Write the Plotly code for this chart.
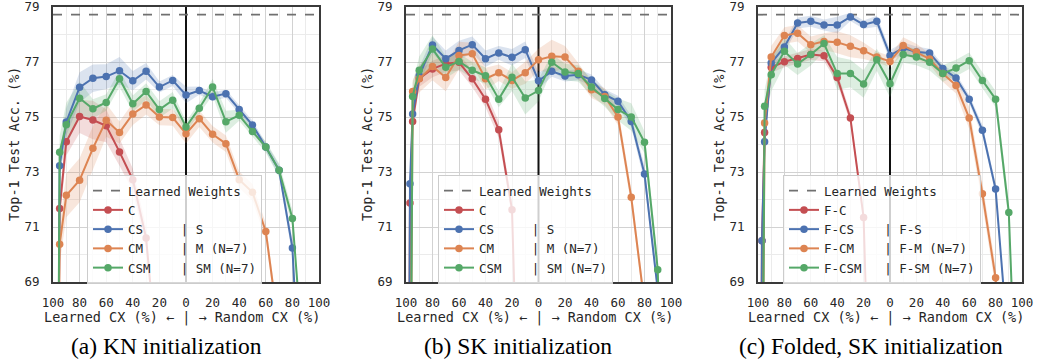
import plotly.graph_objects as go

# ---------------- data ----------------
# signed position: negative = learned CX (%), positive = random CX (%)
X_POS = [-99, -97, -95, -90, -80, -70, -60, -50, -40, -30, -20, -10, 0,
         10, 20, 30, 40, 50, 60, 70, 80, 90, 95]
TICK_VALS = [-100, -80, -60, -40, -20, 0, 20, 40, 60, 80, 100]
TICK_TEXT = ["100", "80", "60", "40", "20", "0", "20", "40", "60", "80", "100"]
Y_TICKS = [69, 71, 73, 75, 77, 79]
LEARNED_WEIGHTS = 78.72
N = None

# panel (a) KN initialization
a_C = [N, 60.0, 71.67, 74.10, 75.02, 74.89, 74.68, 73.73, 72.72, 70.60, 65.3,
       N, N, N, N, N, N, N, N, N, N, N, N]
a_CS = [N, 56.0, 73.23, 74.82, 76.08, 76.41, 76.47, 76.68, 76.32, 76.66, 76.09, 76.33,
        75.80, 75.96, 75.74, 75.85, 75.27, 74.71, 73.91, 73.06, 70.24, 61.0, N]
a_CM = [N, 60.0, 70.37, 72.15, 72.70, 73.86, 74.88, 74.44, 75.11, 75.44, 75.00, 74.98,
        74.39, 74.94, 74.37, 74.03, 72.72, 72.26, 70.84, 67.2, N, N, N]
a_CSM = [N, 58.0, 73.72, 74.72, 75.68, 75.30, 75.53, 76.39, 75.48, 75.93, 75.27, 75.61,
         74.64, 75.32, 76.09, 74.83, 75.06, 74.47, 73.91, 73.06, 71.31, 65.0, N]
a_C_sd = [N, 0.6, 0.5, 0.5, 0.6, 0.7, 0.6, 0.5, 0.4, 0.4, 0.4,
          N, N, N, N, N, N, N, N, N, N, N, N]
a_CS_sd = [N, 0.5, 0.4, 0.5, 0.55, 0.5, 0.45, 0.5, 0.35, 0.3, 0.2, 0.2,
           0.3, 0.15, 0.15, 0.15, 0.15, 0.15, 0.15, 0.2, 0.3, 0.3, N]
a_CM_sd = [N, 0.8, 0.7, 0.8, 0.8, 0.8, 0.6, 0.4, 0.4, 0.35, 0.3, 0.3,
           0.35, 0.3, 0.3, 0.3, 0.3, 0.3, 0.3, 0.3, N, N, N]
a_CSM_sd = [N, 0.6, 0.6, 0.8, 0.6, 0.35, 0.3, 0.3, 0.3, 0.3, 0.3, 0.3,
            0.2, 0.2, 0.3, 0.4, 0.2, 0.2, 0.2, 0.25, 0.3, 0.3, N]

# panel (b) SK initialization
b_C = [50.0, 71.87, 74.84, 76.40, 76.75, 76.94, 76.99, 76.39, 75.65, 74.54, 71.63, 55.0,
       N, N, N, N, N, N, N, N, N, N, N]
b_CS = [50.0, 72.57, 75.11, 76.50, 77.62, 77.12, 77.42, 77.63, 77.12, 77.33, 77.17, 77.45,
        76.32, 76.66, 76.49, 76.54, 76.35, 75.81, 75.57, 74.84, 72.93, 68.7, N]
b_CM = [N, 60.0, 75.93, 76.39, 76.84, 76.44, 77.24, 77.30, 76.39, 76.61, 76.33, 76.61,
        77.08, 77.21, 77.18, 76.66, 75.99, 75.75, 75.00, 72.08, 68.2, N, N]
b_CSM = [N, 60.0, 75.75, 76.70, 77.47, 76.81, 77.02, 76.70, 76.50, 75.65, 76.45, 75.69,
         75.96, 76.99, 76.64, 76.58, 76.09, 75.67, 75.27, 75.00, 74.08, 69.45, 60.0]
b_C_sd = [0.5, 0.4, 0.3, 0.3, 0.3, 0.3, 0.3, 0.3, 0.3, 0.3, 0.3, 0.3,
          N, N, N, N, N, N, N, N, N, N, N]
b_CS_sd = [0.5, 0.4, 0.3, 0.3, 0.3, 0.3, 0.35, 0.3, 0.3, 0.25, 0.3, 0.3,
           0.3, 0.2, 0.2, 0.2, 0.2, 0.2, 0.2, 0.2, 0.3, 0.3, N]
b_CM_sd = [N, 0.5, 0.4, 0.5, 0.5, 0.5, 0.5, 0.4, 0.4, 0.3, 0.3, 0.4,
           0.4, 0.6, 0.4, 0.3, 0.3, 0.3, 0.3, 0.3, 0.3, N, N]
b_CSM_sd = [N, 0.5, 0.5, 0.5, 0.5, 0.4, 0.3, 0.3, 0.3, 0.3, 0.5, 0.6,
            0.4, 0.3, 0.3, 0.3, 0.3, 0.3, 0.4, 0.5, 0.4, 0.4, N]

# panel (c) Folded, SK initialization
c_C = [50.0, 70.5, 74.44, 76.81, 77.01, 77.13, 77.27, 77.23, 76.44, 74.96, 71.35, 55.0,
       N, N, N, N, N, N, N, N, N, N, N]
c_CS = [50.0, 70.5, 74.10, 76.96, 77.55, 78.42, 78.48, 78.35, 78.35, 78.64, 78.36, 78.48,
        77.24, 77.51, 77.36, 77.33, 76.76, 76.42, 75.65, 74.52, 72.38, 66.4, N]
c_CM = [N, 60.0, 74.78, 77.18, 77.96, 78.05, 77.63, 77.75, 77.72, 77.57, 77.41, 77.18,
        77.02, 77.60, 77.36, 77.11, 76.58, 76.15, 74.96, 72.21, 69.15, 62.0, N]
c_CSM = [N, 60.0, 75.39, 76.54, 77.39, 76.93, 77.27, 77.67, 76.58, 76.58, 76.20, 77.08,
         76.21, 77.27, 77.18, 76.99, 76.58, 76.78, 77.05, 76.33, 75.65, 71.53, 65.2]
c_C_sd = [0.4, 0.4, 0.3, 0.2, 0.2, 0.2, 0.2, 0.2, 0.2, 0.2, 0.2, 0.2,
          N, N, N, N, N, N, N, N, N, N, N]
c_CS_sd = [0.4, 0.4, 0.3, 0.2, 0.2, 0.2, 0.2, 0.2, 0.3, 0.15, 0.15, 0.2,
           0.2, 0.2, 0.2, 0.15, 0.15, 0.15, 0.15, 0.2, 0.2, 0.3, N]
c_CM_sd = [N, 0.5, 0.4, 0.4, 0.3, 0.3, 0.3, 0.3, 0.4, 0.4, 0.3, 0.2,
           0.2, 0.3, 0.3, 0.2, 0.3, 0.3, 0.4, 0.4, 0.4, 0.4, N]
c_CSM_sd = [N, 0.6, 0.6, 0.6, 0.5, 0.4, 0.4, 0.3, 0.6, 0.5, 0.5, 0.4,
            0.5, 0.3, 0.3, 0.3, 0.3, 0.3, 0.3, 0.3, 0.3, 0.4, N]

LABELS_AB = ["C",
             "CS\u00a0\u00a0\u00a0\u00a0\u00a0|\u00a0S",
             "CM\u00a0\u00a0\u00a0\u00a0\u00a0|\u00a0M\u00a0(N=7)",
             "CSM\u00a0\u00a0\u00a0\u00a0|\u00a0SM\u00a0(N=7)"]
LABELS_C = ["F-C",
            "F-CS\u00a0\u00a0\u00a0\u00a0|\u00a0F-S",
            "F-CM\u00a0\u00a0\u00a0\u00a0|\u00a0F-M\u00a0(N=7)",
            "F-CSM\u00a0\u00a0\u00a0|\u00a0F-SM\u00a0(N=7)"]
CAPTIONS = ["(a) KN initialization", "(b) SK initialization", "(c) Folded, SK initialization"]

COLORS = ["#C44E52", "#4C72B0", "#DD8452", "#55A868"]
FILLS = ["rgba(196,78,82,0.2)", "rgba(76,114,176,0.2)", "rgba(221,132,82,0.2)", "rgba(85,168,104,0.2)"]

PANELS = [
    ([a_C, a_CS, a_CM, a_CSM], [a_C_sd, a_CS_sd, a_CM_sd, a_CSM_sd], LABELS_AB),
    ([b_C, b_CS, b_CM, b_CSM], [b_C_sd, b_CS_sd, b_CM_sd, b_CSM_sd], LABELS_AB),
    ([c_C, c_CS, c_CM, c_CSM], [c_C_sd, c_CS_sd, c_CM_sd, c_CSM_sd], LABELS_C),
]

# ---------------- layout geometry (pixels) ----------------
W, H = 1038, 362
X_DOMAINS_PX = [(53, 319), (406, 671), (758, 1022)]
Y_TOP_PX, Y_BOT_PX = 7, 282
LEGEND_X_PX = [87, 438, 783]
LEGEND_Y_PX = 175
CAPTION_X_PX = [166.5, 518, 871]

MONO = "DejaVu Sans Mono"
TXT = "#262626"

fig = go.Figure()

for p, (series, sds, labels) in enumerate(PANELS):
    ax = "" if p == 0 else str(p + 1)
    xref, yref = "x" + ax, "y" + ax
    leg = "legend" + ax
    # center divider (drawn first: above grid, below data)
    fig.add_trace(go.Scatter(x=[0, 0], y=[69, 79], mode="lines",
                             line=dict(color="#111111", width=2),
                             hoverinfo="skip", showlegend=False, xaxis=xref, yaxis=yref))
    # bands
    for s, (vals, sd) in enumerate(zip(series, sds)):
        xs = [x for x, v, d in zip(X_POS, vals, sd) if v is not None and d is not None]
        up = [v + d for v, d in zip(vals, sd) if v is not None and d is not None]
        lo = [v - d for v, d in zip(vals, sd) if v is not None and d is not None]
        fig.add_trace(go.Scatter(x=xs + xs[::-1], y=up + lo[::-1], fill="toself",
                                 fillcolor=FILLS[s], line=dict(width=0), mode="lines",
                                 hoverinfo="skip", showlegend=False,
                                 xaxis=xref, yaxis=yref))
    # learned weights reference
    fig.add_trace(go.Scatter(x=[-100, 100], y=[LEARNED_WEIGHTS, LEARNED_WEIGHTS], mode="lines",
                             line=dict(color="#707070", width=1.8, dash="dash"),
                             name="Learned\u00a0Weights", legend=leg, xaxis=xref, yaxis=yref))
    for s, vals in enumerate(series):
        xs = [x for x, v in zip(X_POS, vals) if v is not None]
        ys = [v for v in vals if v is not None]
        fig.add_trace(go.Scatter(x=xs, y=ys, mode="lines+markers", name=labels[s],
                                 line=dict(color=COLORS[s], width=2),
                                 marker=dict(color=COLORS[s], size=7.5),
                                 legend=leg, xaxis=xref, yaxis=yref))

    x0, x1 = X_DOMAINS_PX[p]
    common = dict(showline=True, mirror=True, linecolor="#3a3a3a", linewidth=2,
                  zeroline=False, ticks="", showgrid=True, gridcolor="#d2d2d2", gridwidth=1,
                  automargin=False, ticklabeloverflow="allow",
                  tickfont=dict(family=MONO, size=12.5, color=TXT))
    fig.layout["xaxis" + ax] = dict(
        domain=[x0 / W, x1 / W], range=[-100, 100], anchor=yref,
        tickmode="array", tickvals=TICK_VALS, ticktext=TICK_TEXT, ticklabelstandoff=8,
        minor=dict(tickmode="linear", tick0=0, dtick=10, showgrid=True, gridcolor="#ebebeb", gridwidth=1),
        **common)
    fig.layout["yaxis" + ax] = dict(
        domain=[1 - Y_BOT_PX / H, 1 - Y_TOP_PX / H], range=[69, 79], anchor=xref,
        tickmode="array", tickvals=Y_TICKS, ticklabelstandoff=9,
        minor=dict(tickmode="linear", tick0=69, dtick=1, showgrid=True, gridcolor="#ebebeb", gridwidth=1),
        **common)
    fig.layout[leg] = dict(
        x=LEGEND_X_PX[p] / W, y=1 - LEGEND_Y_PX / H, xanchor="left", yanchor="top",
        bgcolor="rgba(255,255,255,0.8)", bordercolor="#cccccc", borderwidth=1,
        font=dict(family=MONO, size=12.5, color=TXT), tracegroupgap=0, itemwidth=30)
    cx = (x0 + x1) / 2
    fig.add_annotation(text="Learned\u00a0CX\u00a0(%)\u00a0←\u00a0|\u00a0→\u00a0Random\u00a0CX\u00a0(%)",
                       xref="paper", yref="paper", x=(cx - 4) / W, y=1 - 317 / H,
                       xanchor="center", yanchor="middle", showarrow=False,
                       font=dict(family=MONO, size=13.5, color=TXT))
    fig.add_annotation(text=CAPTIONS[p], xref="paper", yref="paper", x=CAPTION_X_PX[p] / W, y=1 - 346 / H,
                       xanchor="center", yanchor="middle", showarrow=False,
                       font=dict(family="Liberation Serif", size=23.5, color="black"))
    fig.add_annotation(text="Top-1\u00a0Test\u00a0Acc.\u00a0(%)", textangle=-90,
                       xref="paper", yref="paper", x=(x0 - 38.5) / W, y=1 - (Y_TOP_PX + Y_BOT_PX) / 2 / H,
                       xanchor="center", yanchor="middle", showarrow=False,
                       font=dict(family=MONO, size=13.5, color=TXT))

fig.update_layout(width=W, height=H, margin=dict(l=0, r=0, t=0, b=0),
                  paper_bgcolor="white", plot_bgcolor="white", hovermode=False)

fig.write_html("out.html", config={"displayModeBar": False, "staticPlot": True},
               post_script="document.body.style.margin='0px';")
